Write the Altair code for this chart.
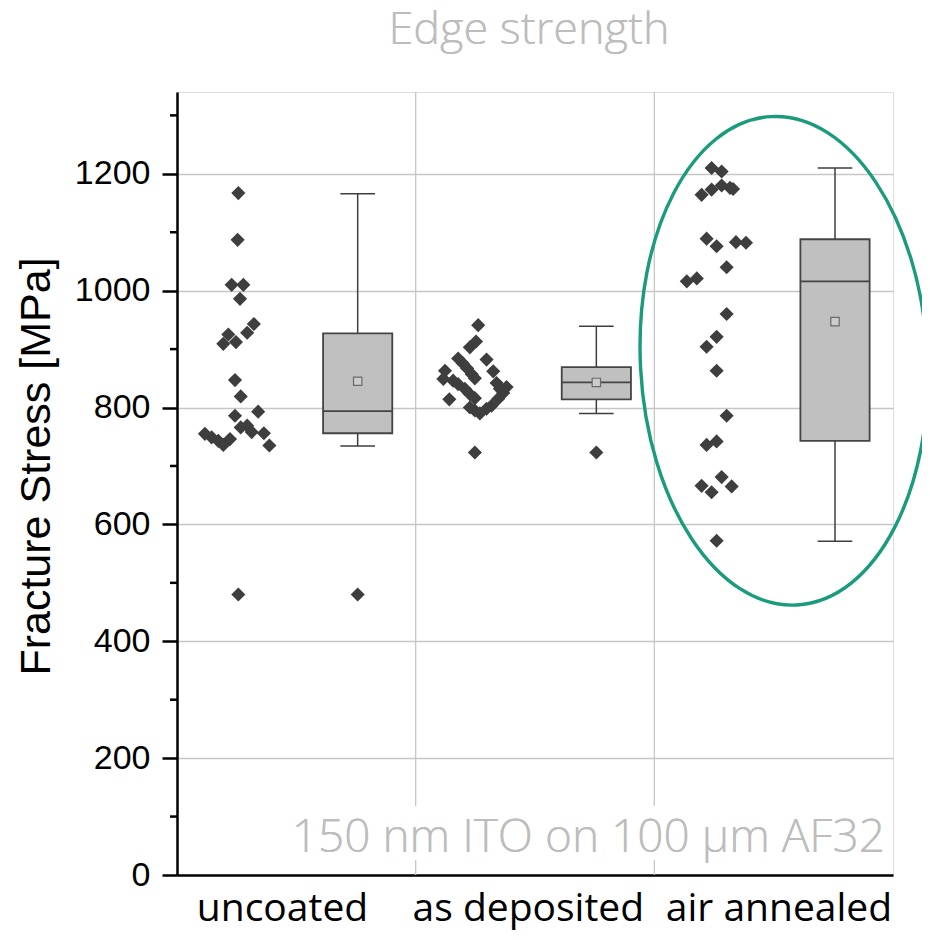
import altair as alt
import pandas as pd

groups = ["uncoated", "as deposited", "air annealed"]

uncoated = [1167, 1087, 1010, 1010, 986, 943, 928, 925, 909, 912, 847, 819, 793, 786,
            755, 749, 743, 736, 746, 766, 769, 758, 756, 735, 480]
uncoated_jitter = [0.007, 0.004, -0.021, 0.028, 0.014, 0.072, 0.044, -0.035, -0.056, -0.003,
                   -0.007, 0.017, 0.090, -0.007, -0.133, -0.105, -0.077, -0.056, -0.028, 0.017,
                   0.044, 0.063, 0.114, 0.137, 0.007]
as_deposited = [941, 913, 903, 884, 882, 876, 867, 863, 862, 857, 850, 849, 846, 842, 840,
                835, 832, 832, 825, 823, 816, 815, 814, 803, 800, 798, 795, 790, 723]
as_deposited_jitter = [0.012, 0.003, -0.023, -0.072, 0.047, -0.053, -0.034, -0.127, 0.075, -0.015,
                       -0.002, -0.134, -0.093, 0.089, -0.072, 0.131, -0.044, 0.103, 0.117, -0.023,
                       -0.002, 0.096, -0.109, 0.068, -0.023, 0.047, -0.002, 0.019, -0.002]
air_annealed = [1210, 1204, 1164, 1173, 1180, 1176, 1174, 1089, 1076, 1083, 1082, 1040, 1016,
                1021, 960, 921, 904, 863, 786, 736, 742, 666, 655, 681, 665, 572]
air_annealed_jitter = [-0.010, 0.032, -0.052, -0.010, 0.032, 0.067, 0.080, -0.031, 0.011, 0.092,
                       0.134, 0.053, -0.114, -0.072, 0.053, 0.011, -0.031, 0.011, 0.053, -0.031,
                       0.011, -0.052, -0.010, 0.032, 0.074, 0.011]

# box statistics
box_low = [734, 790, 571]
box_q1 = [756, 814, 743]
box_median = [794, 843, 1016]
box_q3 = [927, 869, 1088]
box_high = [1166, 939, 1210]
box_mean = [845, 843, 947]
outlier_group = [0, 1]
outlier_value = [480, 723]

y_major = [0, 200, 400, 600, 800, 1000, 1200]
y_minor = [100, 300, 500, 700, 900, 1100, 1300]
group_dividers = [1, 2]

title_text = "Edge strength"
note_text = "150 nm ITO on 100 µm AF32"

# ---- build tables
rows = []
for gi, (vals, jit) in enumerate([(uncoated, uncoated_jitter),
                                   (as_deposited, as_deposited_jitter),
                                   (air_annealed, air_annealed_jitter)]):
    for v, j in zip(vals, jit):
        rows.append({"x": gi + 0.25 + j, "y": v})
pts = pd.DataFrame(rows)

BOX_C = 0.757
BOX_HW = 0.145
CAP_HW = 0.0725
box = pd.DataFrame({
    "xc": [i + BOX_C for i in range(3)],
    "xl": [i + BOX_C - BOX_HW for i in range(3)],
    "xr": [i + BOX_C + BOX_HW for i in range(3)],
    "cl": [i + BOX_C - CAP_HW for i in range(3)],
    "cr": [i + BOX_C + CAP_HW for i in range(3)],
    "low": box_low, "q1": box_q1, "med": box_median, "q3": box_q3,
    "high": box_high, "mean": box_mean,
})
outl = pd.DataFrame({"x": [g + BOX_C for g in outlier_group], "y": outlier_value})
minor = pd.DataFrame({"v": y_minor})
divs = pd.DataFrame({"x": group_dividers})
ell = pd.DataFrame({"x": [2.543], "y": [880]})

W, H = 716, 783
xscale = alt.Scale(domain=[0, 3], nice=False, zero=False)
yscale = alt.Scale(domain=[0, 1340], nice=False, zero=False)

label_expr = ("datum.value < 1 ? '%s' : datum.value < 2 ? '%s' : '%s'" % tuple(groups))
x_axis = alt.Axis(values=[0.44, 1.47, 2.52], labelExpr=label_expr, ticks=False, grid=False,
                  domainColor="black", domainWidth=2.5, labelFont="Open Sans",
                  labelFontSize=39, labelColor="black", labelPadding=14, title=None,
                  labelAlign="center", labelLimit=0, labelOverlap=False)
y_axis = alt.Axis(values=y_major, format="d", grid=True, gridColor="#c6c6c6", gridWidth=1.3,
                  domainColor="black", domainWidth=2.5, tickColor="black", tickWidth=2.5,
                  tickSize=15, labelFont="Liberation Sans", labelFontSize=34,
                  labelColor="black", labelPadding=12, title="Fracture Stress [MPa]",
                  titleFont="Liberation Sans", titleFontSize=43, titleFontWeight="normal",
                  titleColor="black", titlePadding=16, titleY=374)

X = lambda f: alt.X(f, type="quantitative", scale=xscale, axis=x_axis)
Y = lambda f: alt.Y(f, type="quantitative", scale=yscale, axis=y_axis)

dark = "#3e3e3e"

vgrid = alt.Chart(divs).mark_rule(color="#c6c6c6", strokeWidth=1.3).encode(x=X("x"))

white_bg = alt.Chart(divs).mark_rect(color="white").encode(
    x=alt.value(106), x2=alt.value(715), y=alt.value(714), y2=alt.value(768))

note = alt.Chart(divs).mark_text(
    text=note_text, font="Open Sans", fontWeight=300, fontSize=46, color="#bdbdbd",
    align="right", baseline="alphabetic").encode(x=alt.value(708), y=alt.value(760))

title = alt.Chart(divs).mark_text(
    text=title_text, font="Open Sans", fontWeight=300, fontSize=45, color="#bdbdbd",
    align="center", baseline="alphabetic").encode(x=alt.value(352), y=alt.value(-48))

minor_ticks = alt.Chart(minor).mark_rule(color="black", strokeWidth=2.5).encode(
    y=Y("v"), x=alt.value(-7), x2=alt.value(0))

whisk_hi = alt.Chart(box).mark_rule(color=dark, strokeWidth=1.5).encode(
    x=X("xc"), y=Y("q3"), y2="high")
whisk_lo = alt.Chart(box).mark_rule(color=dark, strokeWidth=1.5).encode(
    x=X("xc"), y=Y("low"), y2="q1")
cap_hi = alt.Chart(box).mark_rule(color=dark, strokeWidth=1.5).encode(
    x=X("cl"), x2="cr", y=Y("high"))
cap_lo = alt.Chart(box).mark_rule(color=dark, strokeWidth=1.5).encode(
    x=X("cl"), x2="cr", y=Y("low"))
boxes = alt.Chart(box).mark_rect(fill="#c0c0c0", stroke="#444444", strokeWidth=1.8).encode(
    x=X("xl"), x2="xr", y=Y("q1"), y2="q3")
medians = alt.Chart(box).mark_rule(color="#444444", strokeWidth=1.8).encode(
    x=X("xl"), x2="xr", y=Y("med"))
means = alt.Chart(box).mark_point(shape="square", size=70, filled=True, fill="#cccccc",
                                  stroke="#6a6a6a", strokeWidth=1.2, opacity=1).encode(
    x=X("xc"), y=Y("mean"))

points = alt.Chart(pts).mark_point(shape="diamond", size=200, filled=True, color=dark,
                                   opacity=1).encode(x=X("x"), y=Y("y"))
outliers = alt.Chart(outl).mark_point(shape="diamond", size=200, filled=True, color=dark,
                                      opacity=1).encode(x=X("x"), y=Y("y"))

ellipse_path = "M 0,-1 A 0.587,1 0 1,1 0,1 A 0.587,1 0 1,1 0,-1 Z"
ellipse = alt.Chart(ell).mark_point(shape=ellipse_path, size=489 * 489, filled=False,
                                    stroke="#1a9b7b", strokeWidth=3.4, opacity=1,
                                    angle=357).encode(x=X("x"), y=Y("y"))

chart = alt.layer(
    vgrid, white_bg, note, title, minor_ticks,
    whisk_hi, whisk_lo, cap_hi, cap_lo, boxes, medians, means,
    points, outliers, ellipse
).properties(
    width=W, height=H,
    autosize=alt.AutoSizeParams(type="none"),
    padding={"left": 169, "top": 84, "right": 29, "bottom": 58},
).configure_view(stroke=None).configure(background="white")

chart.save("out.html", embed_options={"renderer": "svg", "actions": False})
